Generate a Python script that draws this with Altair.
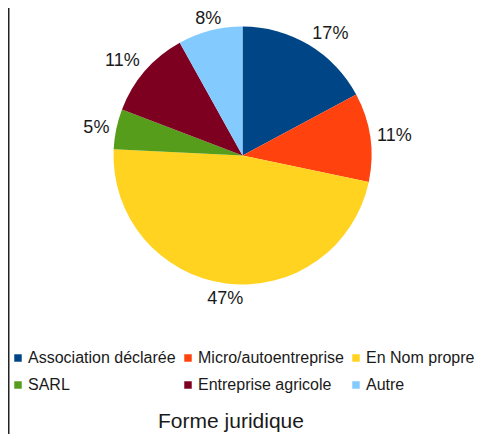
import altair as alt
import pandas as pd

categories = ["Association déclarée", "Micro/autoentreprise", "En Nom propre",
              "SARL", "Entreprise agricole", "Autre"]
values = [17, 11, 47, 5, 11, 8]
labels = ["17%", "11%", "47%", "5%", "11%", "8%"]
colors = ["#004586", "#ff420e", "#ffd320", "#579d1c", "#7e0021", "#83caff"]
title_text = ["Forme juridique"]

df = pd.DataFrame({
    "cat": categories,
    "value": values,
    "label": labels,
    "idx": list(range(len(categories))),
})
df_title = pd.DataFrame({"t": title_text})

FONT = "Liberation Sans"
CX, CY, R = 234.5, 147.5, 129

base = alt.Chart(df)

color = alt.Color(
    "cat:N",
    scale=alt.Scale(domain=categories, range=colors),
    sort=categories,
    legend=alt.Legend(
        title=None, orient="none", legendX=2, legendY=342, columns=3,
        direction="horizontal",
        symbolType="square", symbolSize=56, symbolStrokeWidth=0,
        labelFontSize=16, labelFont=FONT, labelColor="#1a1a1a",
        columnPadding=4, rowPadding=11, labelOffset=2, labelLimit=300,
    ),
)

arcs = base.mark_arc(outerRadius=R, stroke=None).encode(
    theta=alt.Theta("value:Q", stack=True),
    color=color,
    order=alt.Order("idx:Q"),
    x=alt.value(CX), y=alt.value(CY),
)

texts = base.transform_window(
    cum="sum(value)", sort=[alt.SortField("idx")], frame=[None, 0]
).transform_joinaggregate(
    total="sum(value)"
).transform_calculate(
    ang="2*PI*(datum.cum - datum.value/2)/datum.total"
).transform_calculate(
    al="sin(datum.ang) > 0.3 ? 'left' : (sin(datum.ang) < -0.3 ? 'right' : 'center')",
    bl="cos(datum.ang) > 0.3 ? 'alphabetic' : (cos(datum.ang) < -0.3 ? 'top' : 'middle')",
).mark_text(
    radius=R + 7, fontSize=18, font=FONT, color="#1a1a1a",
    align=alt.ExprRef(expr="datum.al"), baseline=alt.ExprRef(expr="datum.bl"),
).encode(
    theta=alt.Theta("value:Q", stack=True),
    order=alt.Order("idx:Q"),
    text="label:N",
    x=alt.value(CX), y=alt.value(CY),
)

title = alt.Chart(df_title).mark_text(
    fontSize=21, font=FONT, fontWeight="normal", color="#1a1a1a",
    align="center", baseline="alphabetic"
).encode(
    x=alt.value(223), y=alt.value(420), text="t:N",
)

border = alt.Chart(df_title).mark_rule(color="#222222", strokeWidth=1.5).encode(
    x=alt.value(0.75), y=alt.value(0), y2=alt.value(426),
)

chart = alt.layer(border, arcs, texts, title).properties(
    width=468, height=426,
    autosize=alt.AutoSizeParams(type="none"),
    padding=0,
).configure_view(stroke=None)

chart.save("out.html", embed_options={"renderer": "svg", "actions": False})
